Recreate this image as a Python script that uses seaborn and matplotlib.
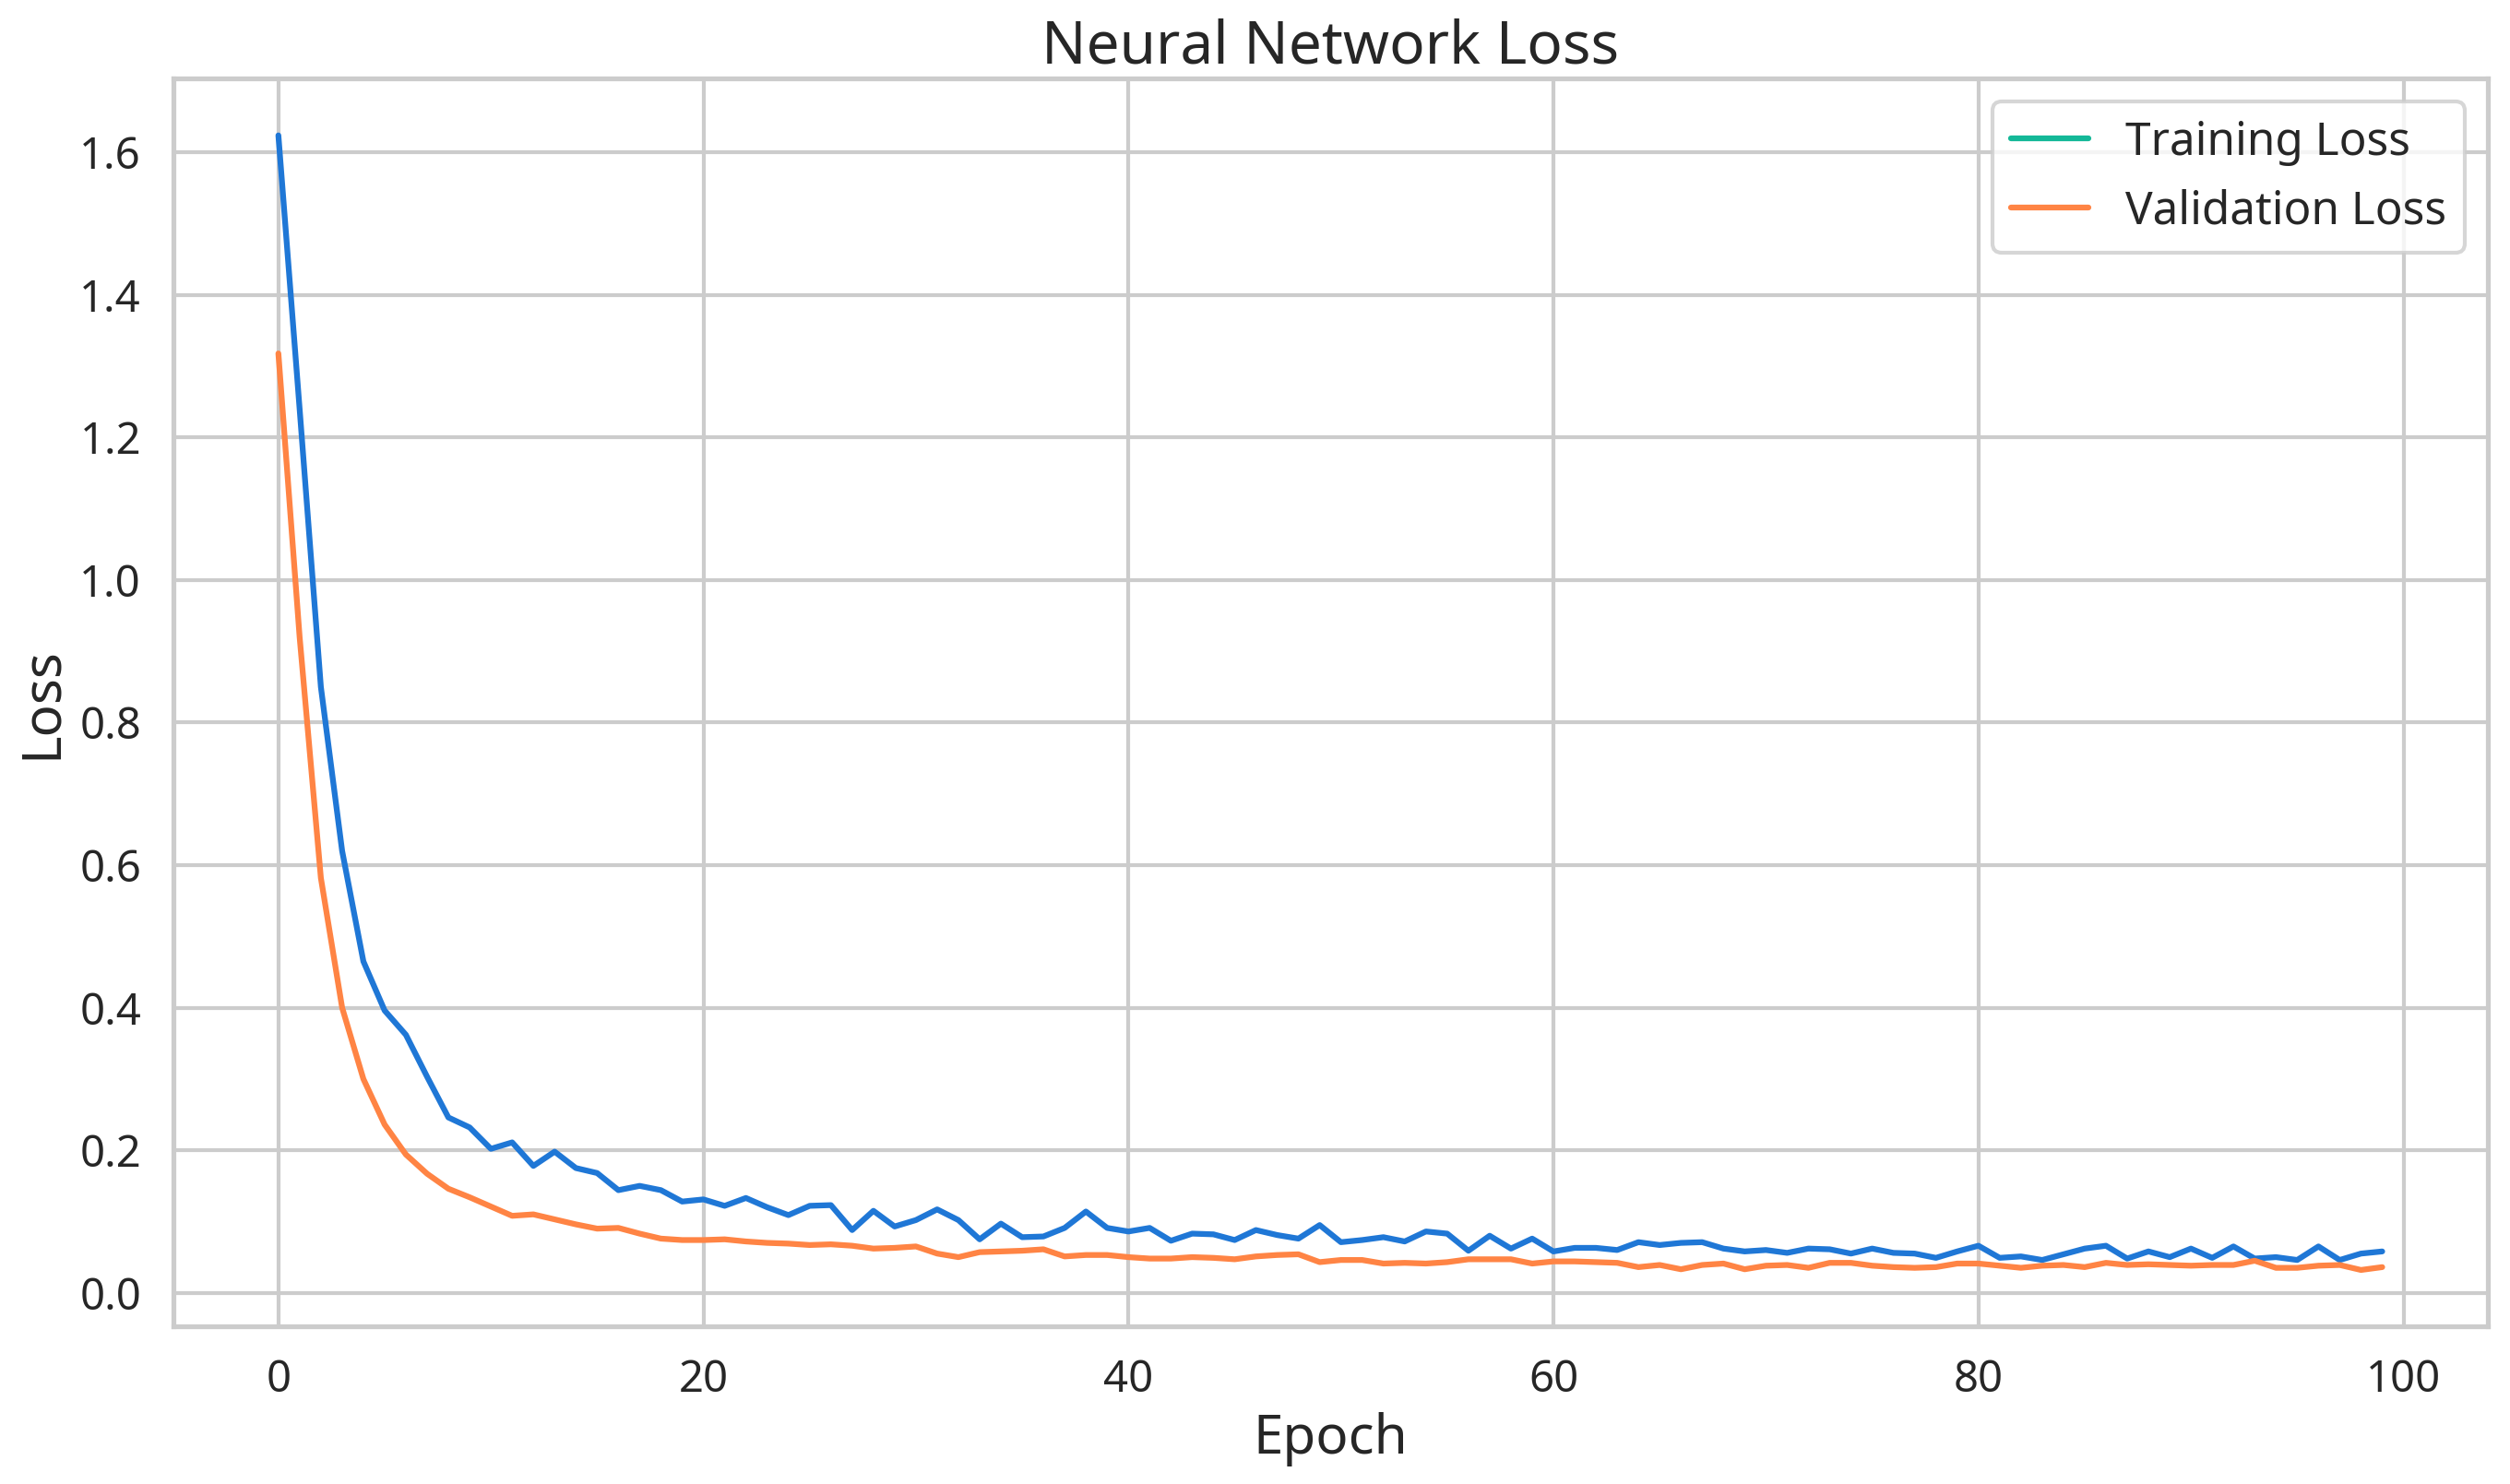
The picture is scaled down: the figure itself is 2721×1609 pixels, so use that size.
import numpy as np
import pandas as pd
import matplotlib
matplotlib.use('Agg')
import matplotlib.pyplot as plt
import seaborn as sns

# values
epochs = list(range(100))
train_loss = [
    1.624, 1.24, 0.85, 0.62, 0.465, 0.396, 0.362, 0.303, 0.246, 0.232,
    0.202, 0.211, 0.178, 0.198, 0.175, 0.168, 0.144, 0.150, 0.144, 0.128,
    0.131, 0.122, 0.133, 0.120, 0.109, 0.122, 0.123, 0.088, 0.115, 0.093,
    0.102, 0.117, 0.102, 0.075, 0.097, 0.078, 0.079, 0.091, 0.114, 0.091,
    0.086, 0.091, 0.073, 0.083, 0.082, 0.074, 0.088, 0.081, 0.076, 0.095,
    0.071, 0.074, 0.078, 0.072, 0.086, 0.083, 0.059, 0.080, 0.062, 0.076,
    0.058, 0.063, 0.063, 0.060, 0.071, 0.067, 0.070, 0.071, 0.062, 0.058,
    0.060, 0.056, 0.062, 0.061, 0.055, 0.062, 0.056, 0.055, 0.049, 0.058,
    0.066, 0.049, 0.051, 0.046, 0.054, 0.062, 0.066, 0.048, 0.058, 0.050,
    0.062, 0.049, 0.065, 0.048, 0.050, 0.046, 0.065, 0.046, 0.055, 0.058,
]
val_loss = [
    1.318, 0.92, 0.582, 0.400, 0.300, 0.236, 0.194, 0.167, 0.146, 0.134,
    0.121, 0.108, 0.110, 0.103, 0.096, 0.090, 0.091, 0.083, 0.076, 0.074,
    0.074, 0.075, 0.072, 0.070, 0.069, 0.067, 0.068, 0.066, 0.062, 0.063,
    0.065, 0.055, 0.050, 0.057, 0.058, 0.059, 0.061, 0.051, 0.053, 0.053,
    0.050, 0.048, 0.048, 0.050, 0.049, 0.047, 0.051, 0.053, 0.054, 0.043,
    0.046, 0.046, 0.041, 0.042, 0.041, 0.043, 0.047, 0.047, 0.047, 0.041,
    0.044, 0.044, 0.043, 0.042, 0.036, 0.039, 0.033, 0.039, 0.041, 0.033,
    0.038, 0.039, 0.035, 0.042, 0.042, 0.038, 0.036, 0.035, 0.036, 0.041,
    0.041, 0.038, 0.035, 0.038, 0.039, 0.036, 0.042, 0.039, 0.040, 0.039,
    0.038, 0.039, 0.039, 0.045, 0.035, 0.035, 0.038, 0.039, 0.032, 0.036,
]

train_color = '#1f77d6'
val_color = '#ff8444'
legend_train_color = '#14b898'


def main():
    sns.set_theme(style='whitegrid', context='talk')
    plt.rcParams['font.family'] = ['Noto Sans', 'DejaVu Sans']

    df = pd.DataFrame({'Epoch': epochs, 'train': train_loss, 'val': val_loss})

    fig, ax = plt.subplots(figsize=(2721 / 200, 1609 / 200), dpi=200)
    sns.lineplot(data=df, x='Epoch', y='train', ax=ax, color=train_color, label='Training Loss')
    sns.lineplot(data=df, x='Epoch', y='val', ax=ax, color=val_color, label='Validation Loss')

    ax.set_title('Neural Network Loss', fontsize=23)
    ax.set_xlabel('Epoch', fontsize=21)
    ax.set_ylabel('Loss', fontsize=21)
    ax.set_xticks([0, 20, 40, 60, 80, 100])
    ax.tick_params(labelsize=17)

    leg = ax.legend(loc='upper right', fontsize=17.8, handlelength=1.7)
    # the legend swatch for training uses a different colour than its line
    leg.get_lines()[0].set_color(legend_train_color)

    fig.subplots_adjust(left=0.069, right=0.991, top=0.947, bottom=0.106)
    fig.savefig('out.png', dpi=200)


if __name__ == '__main__':
    main()
